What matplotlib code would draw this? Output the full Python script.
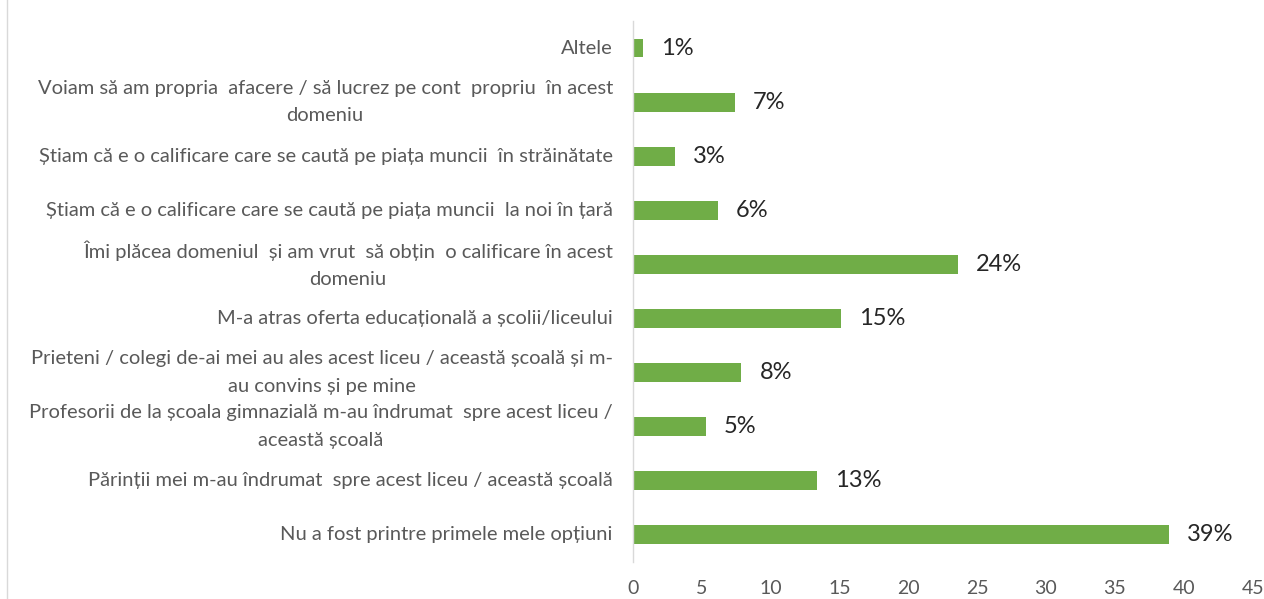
import matplotlib
matplotlib.use("Agg")
import matplotlib.pyplot as plt
from matplotlib.lines import Line2D

categories = [
    "Nu a fost printre primele mele opțiuni",
    "Părinții mei m-au îndrumat  spre acest liceu / această școală",
    "Profesorii de la școala gimnazială m-au îndrumat  spre acest liceu /\naceastă școală",
    "Prieteni / colegi de-ai mei au ales acest liceu / această școală și m-\nau convins și pe mine",
    "M-a atras oferta educațională a școlii/liceului",
    "Îmi plăcea domeniul  și am vrut  să obțin  o calificare în acest\ndomeniu",
    "Știam că e o calificare care se caută pe piața muncii  la noi în țară",
    "Știam că e o calificare care se caută pe piața muncii  în străinătate",
    "Voiam să am propria  afacere / să lucrez pe cont  propriu  în acest\ndomeniu",
    "Altele",
]
values = [38.9, 13.4, 5.3, 7.9, 15.1, 23.6, 6.2, 3.1, 7.4, 0.75]
value_labels = ["39%", "13%", "5%", "8%", "15%", "24%", "6%", "3%", "7%", "1%"]
xticks = [0, 5, 10, 15, 20, 25, 30, 35, 40, 45]

plt.rcParams['font.family'] = ['Lato', 'DejaVu Sans']

fig = plt.figure(figsize=(12.64, 5.99), dpi=100)
ax = fig.add_axes([0.5005, 0.062, 0.4905, 0.903])

y = list(range(len(categories)))
ax.barh(y, values, height=0.35, color="#70AD47")
ax.set_ylim(-0.5, len(categories) - 0.5)
ax.set_xlim(0, 45)
ax.set_xticks(xticks)
ax.set_xticklabels([str(t) for t in xticks])
ax.set_yticks(y)
ax.set_yticklabels([])

ytrans = ax.get_yaxis_transform()
for yi, cat in zip(y, categories):
    ax.text(-0.032, yi, cat, transform=ytrans, ha="right", va="center",
            multialignment="center", linespacing=1.75, fontsize=14.5,
            color="#595959")

for yi, v, lab in zip(y, values, value_labels):
    ax.annotate(lab, xy=(v, yi), xytext=(13, 0), textcoords="offset points",
                va="center", ha="left", fontsize=17, color="#262626")

for s in ["top", "right", "bottom"]:
    ax.spines[s].set_visible(False)
ax.spines["left"].set_color("#D9D9D9")
ax.spines["left"].set_linewidth(1.0)
ax.tick_params(axis="y", length=0)
ax.tick_params(axis="x", length=0, pad=13, labelsize=14, labelcolor="#595959")

fig.add_artist(Line2D([0.0055, 0.0055], [0, 1], transform=fig.transFigure,
                      color="#D9D9D9", linewidth=1.0))

fig.savefig("out.png", dpi=100)
